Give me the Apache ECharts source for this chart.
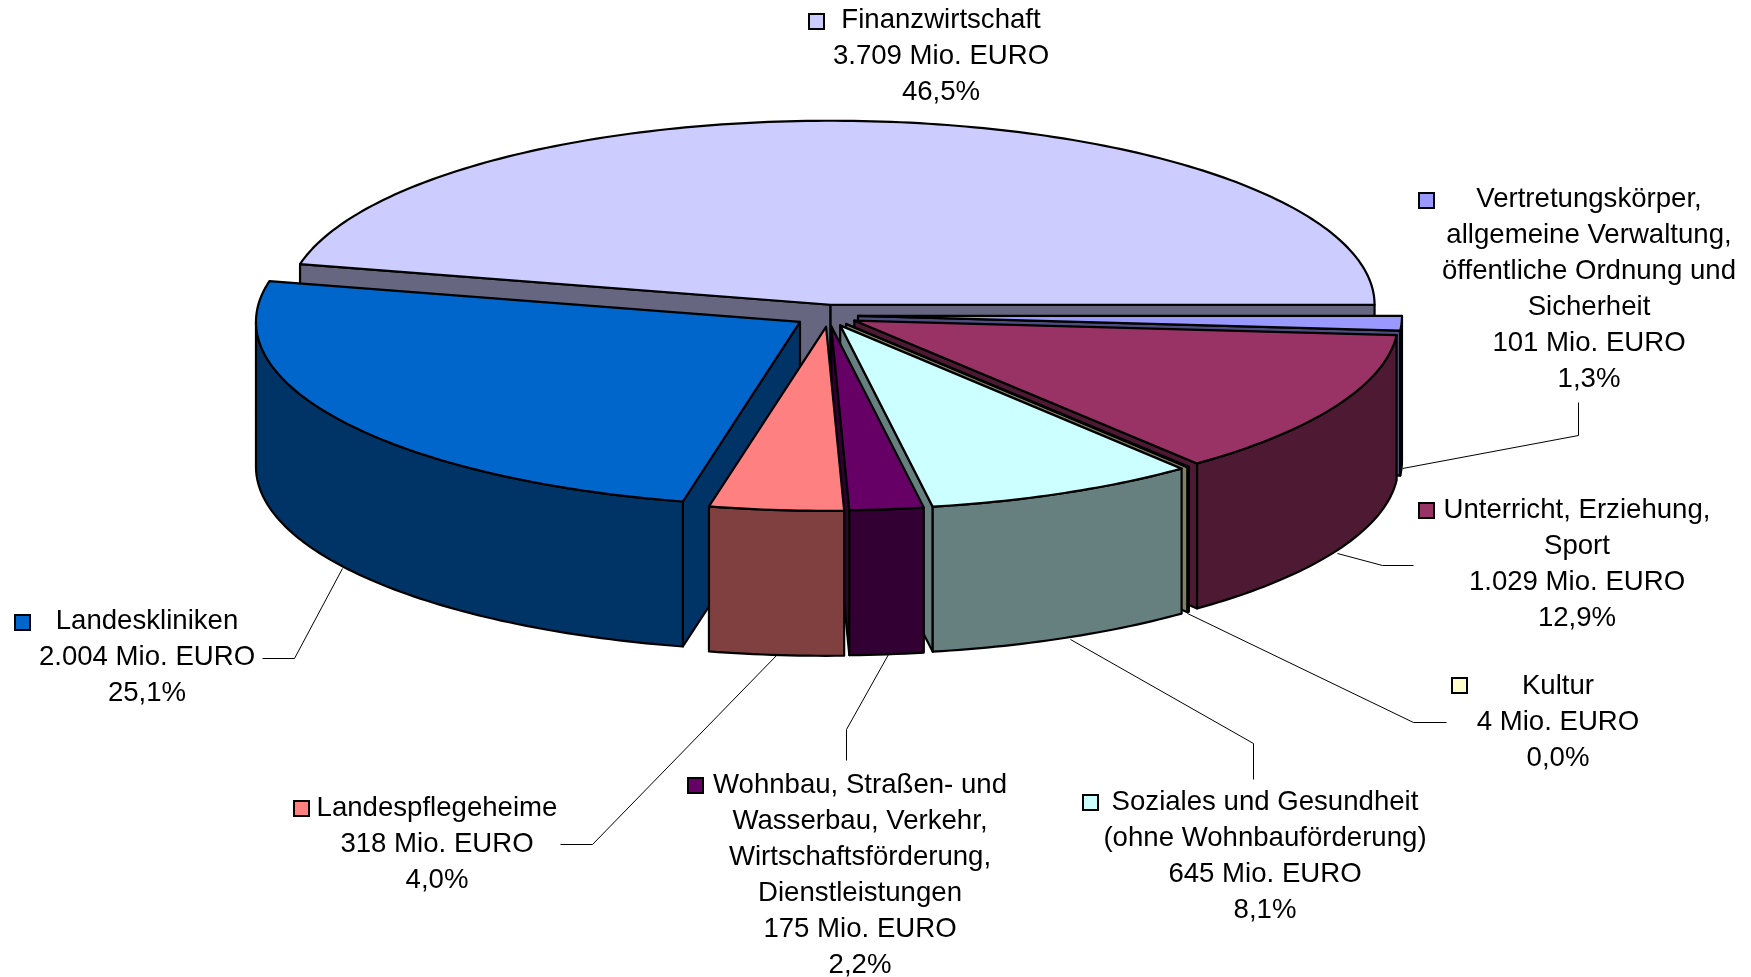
<!DOCTYPE html>
<html>
<head>
<meta charset="utf-8">
<style>html,body{margin:0;padding:0;background:#fff}#chart{width:1751px;height:977px}</style>
<script src="https://cdn.jsdelivr.net/npm/echarts@6/dist/echarts.min.js"></script>
</head>
<body>
<div id="chart"></div>
<script>
// Data, clockwise from the start angle (east)
const categories = [
  ['Vertretungskörper,', 'allgemeine Verwaltung,', 'öffentliche Ordnung und', 'Sicherheit'],
  ['Unterricht, Erziehung,', 'Sport'],
  ['Kultur'],
  ['Soziales und Gesundheit', '(ohne Wohnbauförderung)'],
  ['Wohnbau, Straßen- und', 'Wasserbau, Verkehr,', 'Wirtschaftsförderung,', 'Dienstleistungen'],
  ['Landespflegeheime'],
  ['Landeskliniken'],
  ['Finanzwirtschaft']
];
const values = [101, 1029, 4, 645, 175, 318, 2004, 3709];
const amountLabels = ['101 Mio. EURO', '1.029 Mio. EURO', '4 Mio. EURO', '645 Mio. EURO', '175 Mio. EURO', '318 Mio. EURO', '2.004 Mio. EURO', '3.709 Mio. EURO'];
const percentLabels = ['1,3%', '12,9%', '0,0%', '8,1%', '2,2%', '4,0%', '25,1%', '46,5%'];
const topColors = ['#9999FF', '#993366', '#FFFFCC', '#CCFFFF', '#660066', '#FF8080', '#0066CC', '#CCCCFF'];
const wallColors = ['#4D4D80', '#4D1933', '#808066', '#668080', '#330033', '#804040', '#003366', '#666680'];

// Layout of the projected pie
const pie = { cx: 826, cy: 315.5, rx: 544, ry: 184, depth: 145, explode: 32 };
const sliceNudge = [[0, 0], [0, 0], [0, 0], [1, 0], [2, 0], [3, 0.5], [1, 0.5], [1, 0]];
const font = '27.6px "Liberation Sans", Arial, sans-serif';
const lineStep = 36;
const labelPos = [[1589, 199], [1577, 510], [1558, 686], [1265, 802], [860, 785], [437, 808], [147, 621], [941, 20]];
const keyPos = [[1419, 193], [1419, 503], [1452, 678], [1083, 795], [688, 778], [294, 801], [15, 615], [809, 14]];
const keySize = 15;
const leaders = [
  [[1578, 402], [1578, 435], [1402, 468]],
  [[1413, 565], [1382, 565], [1337, 553]],
  [[1446, 722], [1413, 722], [1187, 613]],
  [[1253, 779], [1253, 743], [1070, 639]],
  [[846, 760], [846, 729], [888, 654]],
  [[560, 844], [592, 844], [777, 654]],
  [[262, 658], [294, 658], [342, 568]],
  null
];

const total = values.reduce((a, b) => a + b, 0);
const spans = [];
let running = 0;
values.forEach(v => {
  const a0 = running / total * 360;
  running += v;
  spans.push([a0, running / total * 360]);
});
const rad = d => d * Math.PI / 180;

function sliceShapes(i) {
  const [a0, a1] = spans[i];
  const mid = (a0 + a1) / 2;
  const ox = pie.cx + sliceNudge[i][0] + pie.explode * Math.cos(rad(mid));
  const oy = pie.cy + sliceNudge[i][1] + pie.explode * (pie.ry / pie.rx) * Math.sin(rad(mid));
  const pt = (a, down) => [ox + pie.rx * Math.cos(rad(a)), oy + pie.ry * Math.sin(rad(a)) + (down ? pie.depth : 0)];
  const arc = (from, to) => {
    const out = [];
    const n = Math.max(1, Math.ceil((to - from) / 1));
    for (let k = 0; k <= n; k++) out.push(pt(from + (to - from) * k / n, false));
    return out;
  };
  const shapes = [];
  const line = { stroke: '#000', lineWidth: 2.2, lineJoin: 'round' };
  const wall = pts => shapes.push({ type: 'polygon', silent: true, shape: { points: pts }, style: Object.assign({ fill: wallColors[i] }, line) });
  const apex = [ox, oy], apexD = [ox, oy + pie.depth];
  // radial faces turned to the viewer
  if (Math.sin(rad(a0 - 90)) > 0) wall([apex, pt(a0), pt(a0, true), apexD]);
  if (Math.sin(rad(a1 + 90)) > 0) wall([apex, pt(a1), pt(a1, true), apexD]);
  // outer rim, front half only
  const r0 = Math.max(a0, 0), r1 = Math.min(a1, 180);
  if (r1 > r0) {
    const top = arc(r0, r1);
    const bottom = top.map(p => [p[0], p[1] + pie.depth]).reverse();
    wall(top.concat(bottom));
  }
  shapes.push({ type: 'polygon', silent: true, shape: { points: [apex].concat(arc(a0, a1)) }, style: Object.assign({ fill: topColors[i] }, line) });
  return shapes;
}

function labelShapes(i) {
  const shapes = [];
  const lines = categories[i].concat([amountLabels[i], percentLabels[i]]);
  lines.forEach((t, k) => shapes.push({
    type: 'text', silent: true,
    style: { text: t, x: labelPos[i][0], y: labelPos[i][1] + k * lineStep, font: font, fill: '#000', align: 'center', verticalAlign: 'middle' }
  }));
  shapes.push({
    type: 'rect', silent: true,
    shape: { x: keyPos[i][0], y: keyPos[i][1], width: keySize, height: keySize },
    style: { fill: topColors[i], stroke: '#000', lineWidth: 2 }
  });
  if (leaders[i]) shapes.push({
    type: 'polyline', silent: true,
    shape: { points: leaders[i].map(p => [p[0] + 0.5, p[1] + 0.5]) },
    style: { fill: null, stroke: '#000', lineWidth: 1 }
  });
  return shapes;
}

// Back-to-front paint order
const paintRank = values.map((v, i) => i)
  .sort((p, q) => Math.sin(rad((spans[p][0] + spans[p][1]) / 2)) - Math.sin(rad((spans[q][0] + spans[q][1]) / 2)));

const chart = echarts.init(document.getElementById('chart'), null, { renderer: 'canvas' });
chart.setOption({
  backgroundColor: '#fff',
  animation: false,
  series: [{
    type: 'custom',
    coordinateSystem: 'none',
    silent: true,
    data: paintRank.map(i => ({ value: values[i], sliceIndex: i })),
    renderItem: function (params) {
      const i = paintRank[params.dataIndex];
      return { type: 'group', silent: true, children: sliceShapes(i).concat(labelShapes(i)) };
    }
  }]
});
</script>
</body>
</html>
